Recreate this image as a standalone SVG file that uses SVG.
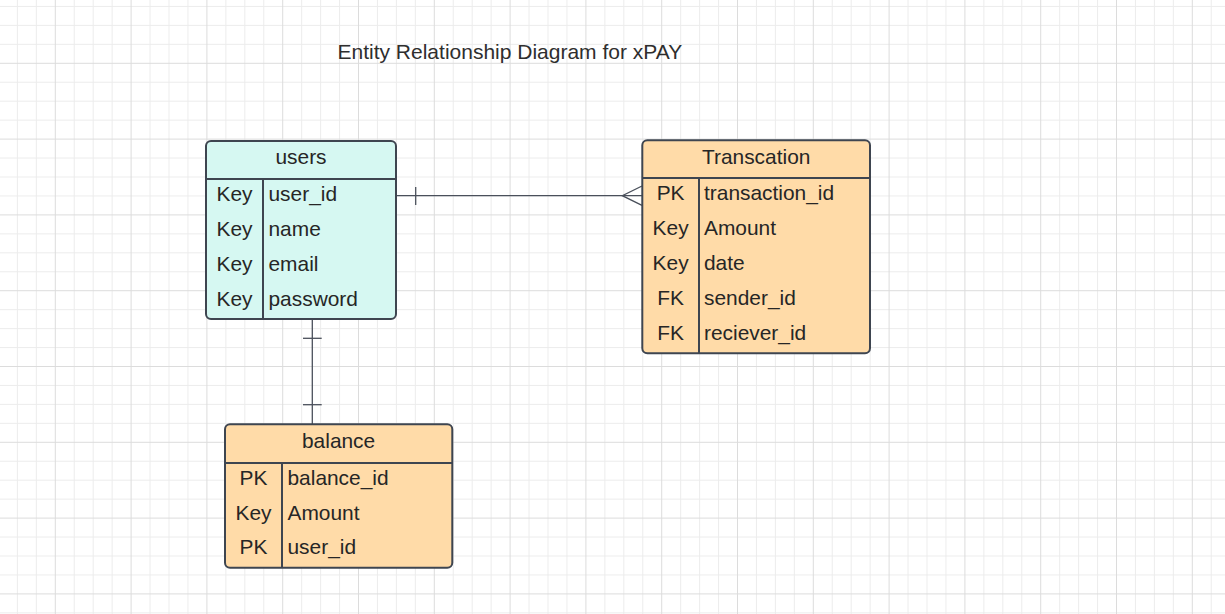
<svg xmlns="http://www.w3.org/2000/svg" width="1225" height="614" viewBox="0 0 1225 614">
<style>
  text { font-family: "Liberation Sans", Arial, sans-serif; font-size: 20.9px; fill: #262626; }
  .title { font-size: 21px; fill: #2e2e2e; }
  .mid { text-anchor: middle; }
  .box { stroke: #3e4550; stroke-width: 2; }
  .div { stroke: #3e4550; stroke-width: 2; fill: none; }
  .mint { fill: #d6f8f2; }
  .orange { fill: #ffdba8; }
  .conn { stroke: #4a505b; stroke-width: 1.3; fill: none; }
</style>
<defs>
  <pattern id="grid" patternUnits="userSpaceOnUse" x="54.8" y="62.8" width="75.8" height="75.8">
    <rect x="18.95" y="0" width="1" height="75.8" fill="#ececec"/>
    <rect x="37.9" y="0" width="1" height="75.8" fill="#ececec"/>
    <rect x="56.85" y="0" width="1" height="75.8" fill="#ececec"/>
    <rect x="0" y="18.95" width="75.8" height="1" fill="#ececec"/>
    <rect x="0" y="37.9" width="75.8" height="1" fill="#ececec"/>
    <rect x="0" y="56.85" width="75.8" height="1" fill="#ececec"/>
    <rect x="0" y="0" width="1" height="75.8" fill="#dcdcdc"/>
    <rect x="0" y="0" width="75.8" height="1" fill="#dcdcdc"/>
  </pattern>
</defs>
<rect x="0" y="0" width="1225" height="614" fill="#ffffff"/>
<rect x="0" y="0" width="1225" height="614" fill="url(#grid)"/>

<text class="title" x="337.5" y="59.3">Entity Relationship Diagram for xPAY</text>

<g id="connectors">
  <line class="conn" x1="396" y1="195.7" x2="642" y2="195.7"/>
  <line class="conn" x1="415.7" y1="187" x2="415.7" y2="205"/>
  <polyline class="conn" points="642,186 622.3,195.7 642,205.4"/>
  <line class="conn" x1="312.3" y1="319" x2="312.3" y2="424"/>
  <line class="conn" x1="303" y1="338.3" x2="321.7" y2="338.3"/>
  <line class="conn" x1="303" y1="404.7" x2="321.7" y2="404.7"/>
</g>

<g id="users">
  <rect class="box mint" x="206" y="141" width="190" height="178" rx="5"/>
  <line class="div" x1="206" y1="179" x2="396" y2="179"/>
  <line class="div" x1="263" y1="179" x2="263" y2="319"/>
  <text class="mid" x="301" y="164">users</text>
  <text class="mid" x="234.5" y="200.7">Key</text>
  <text x="268.5" y="200.7">user_id</text>
  <text class="mid" x="234.5" y="235.7">Key</text>
  <text x="268.5" y="235.7">name</text>
  <text class="mid" x="234.5" y="270.7">Key</text>
  <text x="268.5" y="270.7">email</text>
  <text class="mid" x="234.5" y="305.5">Key</text>
  <text x="268.5" y="305.5">password</text>
</g>

<g id="transcation">
  <rect class="box orange" x="642.3" y="140.3" width="227.7" height="213" rx="5"/>
  <line class="div" x1="642.3" y1="178" x2="870" y2="178"/>
  <line class="div" x1="699" y1="178" x2="699" y2="353.3"/>
  <text class="mid" x="756.2" y="163.5">Transcation</text>
  <text class="mid" x="670.6" y="199.5">PK</text>
  <text x="704" y="199.5">transaction_id</text>
  <text class="mid" x="670.6" y="234.7">Key</text>
  <text x="704" y="234.7">Amount</text>
  <text class="mid" x="670.6" y="269.7">Key</text>
  <text x="704" y="269.7">date</text>
  <text class="mid" x="670.6" y="304.8">FK</text>
  <text x="704" y="304.8">sender_id</text>
  <text class="mid" x="670.6" y="339.8">FK</text>
  <text x="704" y="339.8">reciever_id</text>
</g>

<g id="balance">
  <rect class="box orange" x="225" y="424.3" width="227.3" height="143.4" rx="5"/>
  <line class="div" x1="225" y1="463" x2="452.3" y2="463"/>
  <line class="div" x1="282" y1="463" x2="282" y2="567.7"/>
  <text class="mid" x="338.6" y="447.7">balance</text>
  <text class="mid" x="253.5" y="484.6">PK</text>
  <text x="287.5" y="484.6">balance_id</text>
  <text class="mid" x="253.5" y="519.5">Key</text>
  <text x="287.5" y="519.5">Amount</text>
  <text class="mid" x="253.5" y="554.4">PK</text>
  <text x="287.5" y="554.4">user_id</text>
</g>
</svg>
